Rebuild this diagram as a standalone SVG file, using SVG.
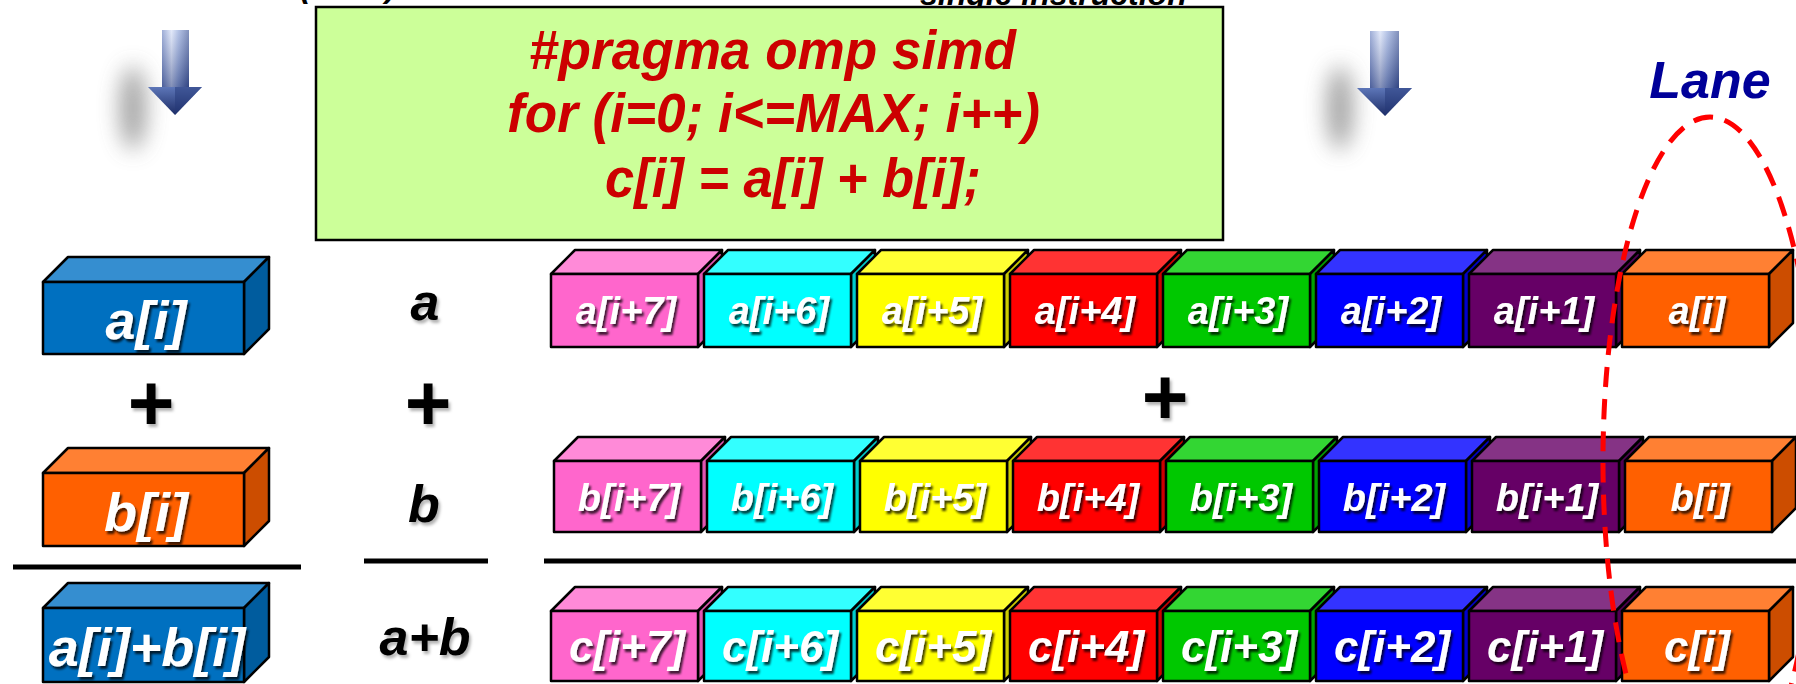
<svg xmlns="http://www.w3.org/2000/svg" width="1796" height="684" viewBox="0 0 1796 684">
<defs>
<style>
.bx{stroke:#000;stroke-width:2.5;stroke-linejoin:round}
.lbl{font-family:"Liberation Sans",Arial,sans-serif;font-weight:bold;font-style:italic;fill:#fff;text-anchor:middle;filter:url(#ts)}
.r12{font-size:38px}
.r3{font-size:44px}
.big{font-size:54px}
.blk{font-family:"Liberation Sans",Arial,sans-serif;font-weight:bold;font-style:italic;fill:#000;text-anchor:middle;font-size:52px;filter:url(#bs)}
.plus{font-family:"Liberation Sans",Arial,sans-serif;font-weight:bold;fill:#000;text-anchor:middle;font-size:80px;filter:url(#bs)}
.code{font-family:"Liberation Sans",Arial,sans-serif;font-weight:bold;font-style:italic;fill:#CC0000;font-size:55px}
.top{font-family:"Liberation Sans",Arial,sans-serif;font-weight:bold;font-style:italic;fill:#000;font-size:32px}
.sep{stroke:#000;stroke-width:5}
.pink .f{fill:#FF66CC}.pink .t{fill:#FF8AD8}.pink .s{fill:#E055B0}
.cyan .f{fill:#00FFFF}.cyan .t{fill:#33FFFF}.cyan .s{fill:#00CCCC}
.yel .f{fill:#FFFF00}.yel .t{fill:#FFFF33}.yel .s{fill:#CCCC00}
.red .f{fill:#FF0000}.red .t{fill:#FF3333}.red .s{fill:#CC0000}
.grn .f{fill:#00C800}.grn .t{fill:#33D633}.grn .s{fill:#00A000}
.blu .f{fill:#0000FF}.blu .t{fill:#3333FF}.blu .s{fill:#0000CC}
.pur .f{fill:#660066}.pur .t{fill:#853385}.pur .s{fill:#520052}
.org .f{fill:#FF6000}.org .t{fill:#FF8033}.org .s{fill:#CC4D00}
.lb .f{fill:#0070C0}.lb .t{fill:#358ED0}.lb .s{fill:#005C9E}
</style>
<filter id="ts" x="-20%" y="-20%" width="150%" height="160%"><feDropShadow dx="2" dy="3" stdDeviation="1.2" flood-color="#000" flood-opacity="0.75"/></filter>
<filter id="bs" x="-20%" y="-20%" width="150%" height="160%"><feDropShadow dx="2" dy="3" stdDeviation="1.5" flood-color="#000" flood-opacity="0.3"/></filter>
<filter id="blur" x="-150%" y="-100%" width="400%" height="300%"><feGaussianBlur stdDeviation="11"/></filter>
<linearGradient id="shaftG" x1="0" y1="0" x2="1" y2="0">
<stop offset="0" stop-color="#6C83C2"/><stop offset="0.35" stop-color="#D4DEF7"/><stop offset="0.6" stop-color="#8FA5DA"/><stop offset="1" stop-color="#3E5597"/>
</linearGradient>
<linearGradient id="shaftV" x1="0" y1="0" x2="0" y2="1">
<stop offset="0" stop-color="#fff" stop-opacity="0.35"/><stop offset="1" stop-color="#1C2C66" stop-opacity="0.45"/>
</linearGradient>
<linearGradient id="headG" x1="0" y1="0" x2="0" y2="1">
<stop offset="0" stop-color="#5D76B8"/><stop offset="1" stop-color="#1C2C66"/>
</linearGradient>
</defs>
<rect width="1796" height="684" fill="#fff"/>

<g id="top-fragments">
<text class="top" x="300" y="-3">(SISD)</text>
<text class="top" x="920" y="5">single instruction</text>
</g>

<g id="code-box">
<rect x="316" y="7" width="907" height="233" fill="#CCFF99" stroke="#000" stroke-width="2.5"/>
<text class="code" x="529" y="69" textLength="487" lengthAdjust="spacingAndGlyphs">#pragma omp simd</text>
<text class="code" x="507" y="132" textLength="533" lengthAdjust="spacingAndGlyphs">for (i=0; i&lt;=MAX; i++)</text>
<text class="code" x="605" y="197" textLength="376" lengthAdjust="spacingAndGlyphs">c[i] = a[i] + b[i];</text>
</g>

<g id="arrow-left">
<ellipse cx="133" cy="108" rx="13" ry="42" fill="#8a8a8a" opacity="0.8" filter="url(#blur)"/>
<rect x="162" y="30" width="27" height="58" fill="url(#shaftG)"/>
<rect x="162" y="30" width="27" height="58" fill="url(#shaftV)"/>
<polygon points="148,87 202,87 175,115" fill="url(#headG)"/>
<polygon points="175,87 202,87 175,115" fill="#243877" opacity="0.5"/>
</g>
<g id="arrow-right">
<ellipse cx="1340" cy="108" rx="13" ry="42" fill="#8a8a8a" opacity="0.8" filter="url(#blur)"/>
<rect x="1370" y="31" width="29" height="58" fill="url(#shaftG)"/>
<rect x="1370" y="31" width="29" height="58" fill="url(#shaftV)"/>
<polygon points="1357,88 1412,88 1385,116" fill="url(#headG)"/>
<polygon points="1385,88 1412,88 1385,116" fill="#243877" opacity="0.5"/>
</g>

<g id="scalar-a" class="lb">
<polygon class="bx t" points="43,282 68,257 269,257 244,282"/>
<polygon class="bx s" points="244,282 269,257 269,329 244,354"/>
<rect class="bx f" x="43" y="282" width="201" height="72"/>
<text class="lbl big" x="146" y="339">a[i]</text>
</g>
<g id="scalar-plus"><text class="plus" x="151" y="430">+</text></g>
<g id="scalar-b" class="org">
<polygon class="bx t" points="43,473 68,448 269,448 244,473"/>
<polygon class="bx s" points="244,473 269,448 269,521 244,546"/>
<rect class="bx f" x="43" y="473" width="201" height="73"/>
<text class="lbl big" x="146" y="531">b[i]</text>
</g>
<g id="scalar-sum" class="lb">
<polygon class="bx t" points="43,608 68,583 269,583 244,608"/>
<polygon class="bx s" points="244,608 269,583 269,657 244,682"/>
<rect class="bx f" x="43" y="608" width="201" height="74"/>
<text class="lbl big" x="147" y="666">a[i]+b[i]</text>
</g>

<g id="mid-labels">
<text class="blk" x="425" y="320">a</text>
<text class="plus" x="428" y="430">+</text>
<text class="blk" x="424" y="522">b</text>
<text class="blk" x="425" y="655">a+b</text>
</g>

<g id="separators">
<line class="sep" x1="13" y1="567" x2="301" y2="567"/>
<line class="sep" x1="364" y1="561" x2="488" y2="561"/>
<line class="sep" x1="544" y1="561" x2="1796" y2="561"/>
</g>

<g id="vector-a">
<g class="pink"><polygon class="bx t" points="551,274 575,250 722,250 698,274"/><polygon class="bx s" points="698,274 722,250 722,323 698,347"/><rect class="bx f" x="551" y="274" width="147" height="73"/><text class="lbl r12" x="626" y="324">a[i+7]</text></g>
<g class="cyan"><polygon class="bx t" points="704,274 728,250 875,250 851,274"/><polygon class="bx s" points="851,274 875,250 875,323 851,347"/><rect class="bx f" x="704" y="274" width="147" height="73"/><text class="lbl r12" x="779" y="324">a[i+6]</text></g>
<g class="yel"><polygon class="bx t" points="857,274 881,250 1028,250 1004,274"/><polygon class="bx s" points="1004,274 1028,250 1028,323 1004,347"/><rect class="bx f" x="857" y="274" width="147" height="73"/><text class="lbl r12" x="932" y="324">a[i+5]</text></g>
<g class="red"><polygon class="bx t" points="1010,274 1034,250 1181,250 1157,274"/><polygon class="bx s" points="1157,274 1181,250 1181,323 1157,347"/><rect class="bx f" x="1010" y="274" width="147" height="73"/><text class="lbl r12" x="1085" y="324">a[i+4]</text></g>
<g class="grn"><polygon class="bx t" points="1163,274 1187,250 1334,250 1310,274"/><polygon class="bx s" points="1310,274 1334,250 1334,323 1310,347"/><rect class="bx f" x="1163" y="274" width="147" height="73"/><text class="lbl r12" x="1238" y="324">a[i+3]</text></g>
<g class="blu"><polygon class="bx t" points="1316,274 1340,250 1487,250 1463,274"/><polygon class="bx s" points="1463,274 1487,250 1487,323 1463,347"/><rect class="bx f" x="1316" y="274" width="147" height="73"/><text class="lbl r12" x="1391" y="324">a[i+2]</text></g>
<g class="pur"><polygon class="bx t" points="1469,274 1493,250 1640,250 1616,274"/><polygon class="bx s" points="1616,274 1640,250 1640,323 1616,347"/><rect class="bx f" x="1469" y="274" width="147" height="73"/><text class="lbl r12" x="1544" y="324">a[i+1]</text></g>
<g class="org"><polygon class="bx t" points="1622,274 1646,250 1793,250 1769,274"/><polygon class="bx s" points="1769,274 1793,250 1793,323 1769,347"/><rect class="bx f" x="1622" y="274" width="147" height="73"/><text class="lbl r12" x="1697" y="324">a[i]</text></g>
</g>

<g id="vector-plus"><text class="plus" x="1165" y="424">+</text></g>

<g id="vector-b">
<g class="pink"><polygon class="bx t" points="554,461 578,437 725,437 701,461"/><polygon class="bx s" points="701,461 725,437 725,508 701,532"/><rect class="bx f" x="554" y="461" width="147" height="71"/><text class="lbl r12" x="629" y="511">b[i+7]</text></g>
<g class="cyan"><polygon class="bx t" points="707,461 731,437 878,437 854,461"/><polygon class="bx s" points="854,461 878,437 878,508 854,532"/><rect class="bx f" x="707" y="461" width="147" height="71"/><text class="lbl r12" x="782" y="511">b[i+6]</text></g>
<g class="yel"><polygon class="bx t" points="860,461 884,437 1031,437 1007,461"/><polygon class="bx s" points="1007,461 1031,437 1031,508 1007,532"/><rect class="bx f" x="860" y="461" width="147" height="71"/><text class="lbl r12" x="935" y="511">b[i+5]</text></g>
<g class="red"><polygon class="bx t" points="1013,461 1037,437 1184,437 1160,461"/><polygon class="bx s" points="1160,461 1184,437 1184,508 1160,532"/><rect class="bx f" x="1013" y="461" width="147" height="71"/><text class="lbl r12" x="1088" y="511">b[i+4]</text></g>
<g class="grn"><polygon class="bx t" points="1166,461 1190,437 1337,437 1313,461"/><polygon class="bx s" points="1313,461 1337,437 1337,508 1313,532"/><rect class="bx f" x="1166" y="461" width="147" height="71"/><text class="lbl r12" x="1241" y="511">b[i+3]</text></g>
<g class="blu"><polygon class="bx t" points="1319,461 1343,437 1490,437 1466,461"/><polygon class="bx s" points="1466,461 1490,437 1490,508 1466,532"/><rect class="bx f" x="1319" y="461" width="147" height="71"/><text class="lbl r12" x="1394" y="511">b[i+2]</text></g>
<g class="pur"><polygon class="bx t" points="1472,461 1496,437 1643,437 1619,461"/><polygon class="bx s" points="1619,461 1643,437 1643,508 1619,532"/><rect class="bx f" x="1472" y="461" width="147" height="71"/><text class="lbl r12" x="1547" y="511">b[i+1]</text></g>
<g class="org"><polygon class="bx t" points="1625,461 1649,437 1796,437 1772,461"/><polygon class="bx s" points="1772,461 1796,437 1796,508 1772,532"/><rect class="bx f" x="1625" y="461" width="147" height="71"/><text class="lbl r12" x="1700" y="511">b[i]</text></g>
</g>

<g id="vector-c">
<g class="pink"><polygon class="bx t" points="551,611 575,587 722,587 698,611"/><polygon class="bx s" points="698,611 722,587 722,657 698,681"/><rect class="bx f" x="551" y="611" width="147" height="70"/><text class="lbl r3" x="627" y="662">c[i+7]</text></g>
<g class="cyan"><polygon class="bx t" points="704,611 728,587 875,587 851,611"/><polygon class="bx s" points="851,611 875,587 875,657 851,681"/><rect class="bx f" x="704" y="611" width="147" height="70"/><text class="lbl r3" x="780" y="662">c[i+6]</text></g>
<g class="yel"><polygon class="bx t" points="857,611 881,587 1028,587 1004,611"/><polygon class="bx s" points="1004,611 1028,587 1028,657 1004,681"/><rect class="bx f" x="857" y="611" width="147" height="70"/><text class="lbl r3" x="933" y="662">c[i+5]</text></g>
<g class="red"><polygon class="bx t" points="1010,611 1034,587 1181,587 1157,611"/><polygon class="bx s" points="1157,611 1181,587 1181,657 1157,681"/><rect class="bx f" x="1010" y="611" width="147" height="70"/><text class="lbl r3" x="1086" y="662">c[i+4]</text></g>
<g class="grn"><polygon class="bx t" points="1163,611 1187,587 1334,587 1310,611"/><polygon class="bx s" points="1310,611 1334,587 1334,657 1310,681"/><rect class="bx f" x="1163" y="611" width="147" height="70"/><text class="lbl r3" x="1239" y="662">c[i+3]</text></g>
<g class="blu"><polygon class="bx t" points="1316,611 1340,587 1487,587 1463,611"/><polygon class="bx s" points="1463,611 1487,587 1487,657 1463,681"/><rect class="bx f" x="1316" y="611" width="147" height="70"/><text class="lbl r3" x="1392" y="662">c[i+2]</text></g>
<g class="pur"><polygon class="bx t" points="1469,611 1493,587 1640,587 1616,611"/><polygon class="bx s" points="1616,611 1640,587 1640,657 1616,681"/><rect class="bx f" x="1469" y="611" width="147" height="70"/><text class="lbl r3" x="1545" y="662">c[i+1]</text></g>
<g class="org"><polygon class="bx t" points="1622,611 1646,587 1793,587 1769,611"/><polygon class="bx s" points="1769,611 1793,587 1793,657 1769,681"/><rect class="bx f" x="1622" y="611" width="147" height="70"/><text class="lbl r3" x="1697" y="662">c[i]</text></g>
</g>

<g id="lane">
<text x="1710" y="98" text-anchor="middle" font-family="Liberation Sans, Arial, sans-serif" font-weight="bold" font-style="italic" font-size="52" fill="#000099">Lane</text>
<ellipse cx="1710" cy="461" rx="107" ry="344" fill="none" stroke="#FF0000" stroke-width="5" stroke-dasharray="20 12"/>
</g>
</svg>
